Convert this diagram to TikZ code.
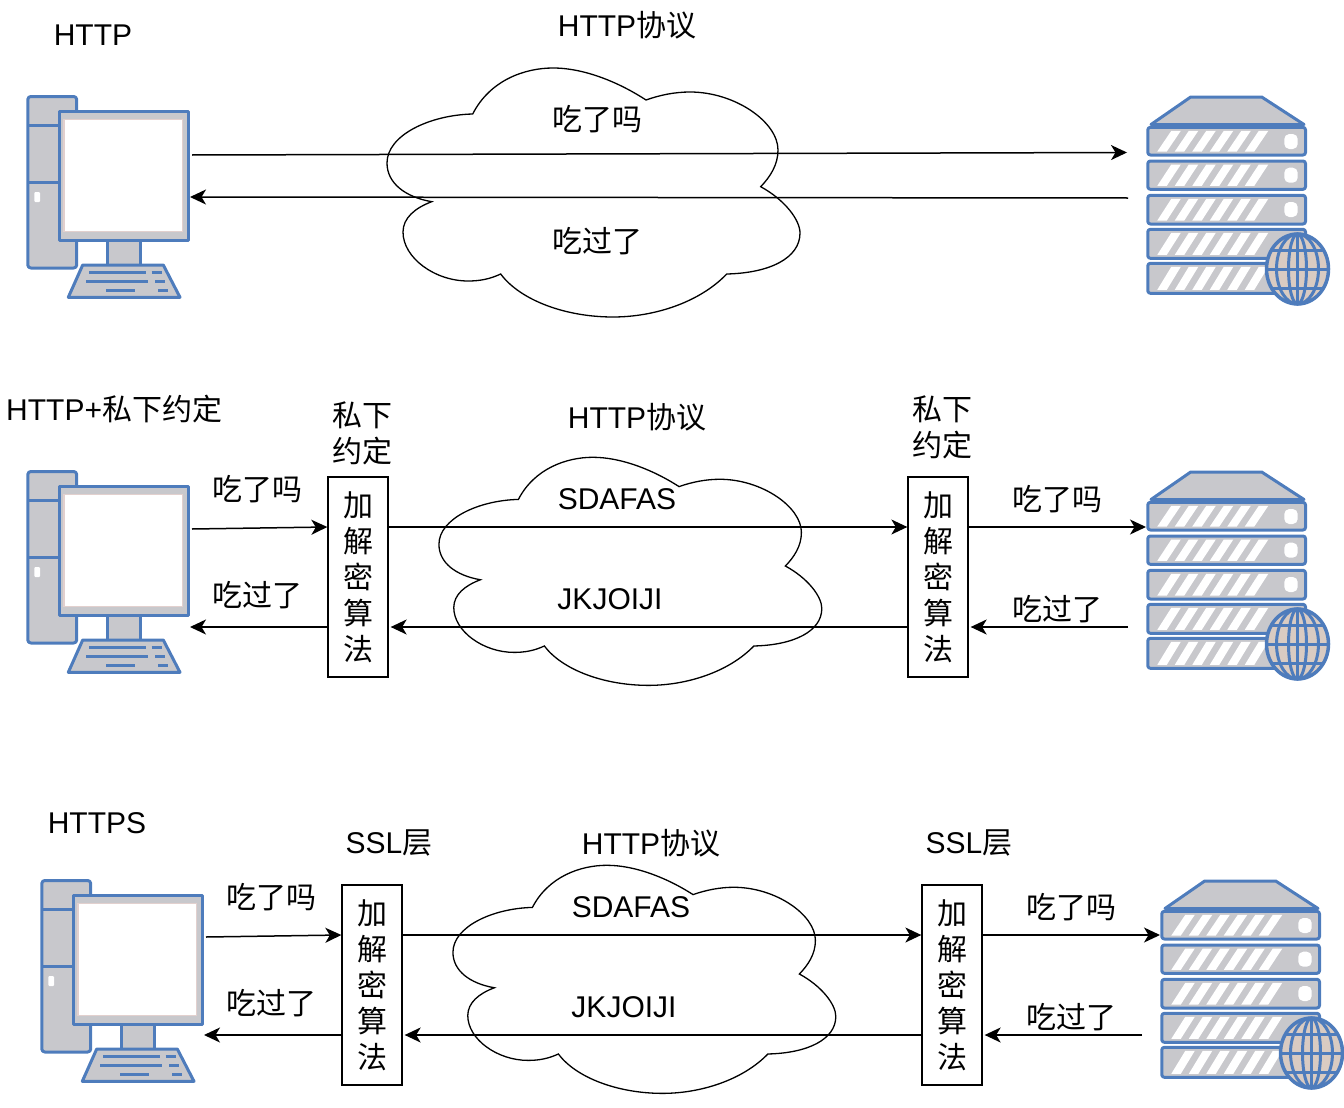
\documentclass[tikz,border=0pt]{standalone}
\usepackage{fontspec}
\setmainfont{Liberation Sans}
\newfontfamily\cjk{Noto Sans CJK SC}
\usetikzlibrary{arrows.meta}
\definecolor{iconblue}{RGB}{78, 124, 188}
\definecolor{icongray}{RGB}{200, 200, 204}
\definecolor{screenpink}{RGB}{226, 208, 206}
\definecolor{globetan}{RGB}{217, 203, 194}
\tikzset{
    lbl/.style={font=\fontsize{30}{36}\selectfont, inner sep=0pt},
    arr/.style={line width=1.5pt, -{Stealth[length=16pt,width=15pt,inset=4.5pt]}},
    cloudline/.style={line width=1.3pt},
    keybox/.style={draw, line width=1.3pt, minimum width=60pt, minimum height=200pt, inner sep=0pt,
        font=\fontsize{30}{36}\selectfont\cjk, align=center},
    icon/.style={draw=iconblue, fill=icongray, line width=3pt, line join=round},
    iconline/.style={draw=iconblue, line width=3pt},
    cloudshape/.pic={
        \draw[cloudline] (472.7,114) .. controls (490,80) and (525,68) .. (553,68)
            .. controls (585,68) and (620,83) .. (646,100)
            .. controls (660,95) and (675,92) .. (690,92)
            .. controls (735,92) and (778,122) .. (778,150)
            .. controls (778,165) and (770,177) .. (760.7,186.7)
            .. controls (785,200) and (800,220) .. (800,233)
            .. controls (800,258) and (770,273) .. (726.7,274)
            .. controls (700,302) and (655,317) .. (613,317)
            .. controls (565,317) and (520,300) .. (500.7,274)
            .. controls (490,279) and (480,281) .. (468,281)
            .. controls (435,281) and (403,258) .. (403,232)
            .. controls (403,218) and (415,208) .. (431.7,201.7)
            .. controls (405,197) and (387,183) .. (387,163)
            .. controls (387,135) and (430,115) .. (472.7,114) -- cycle;
    },
    computer/.pic={
        \draw[icon, rounded corners=3pt] (27.8,96.5) rectangle (76.7,268);
        \draw[iconline] (27.8,125) -- (60,125);
        \draw[iconline] (27.8,182.3) -- (60,182.3);
        \fill[white, rounded corners=1pt] (34.3,192) rectangle (40,202);
        \draw[icon] (107.3,240) rectangle (140.7,265);
        \draw[icon] (59.8,111) rectangle (188.5,240.5);
        \filldraw[draw=screenpink, fill=white, line width=1.5pt] (64,119.3) rectangle (182.7,231.7);
        \draw[icon] (82.7,265) -- (163.3,265) -- (180,297.3) -- (68.3,297.3) -- cycle;
        \draw[iconline] (89.3,272.3) -- (146,272.3);
        \draw[iconline] (151.7,272.3) -- (162.3,272.3);
        \draw[iconline] (86,281) -- (147.7,281);
        \draw[iconline] (155,281) -- (165,281);
        \draw[iconline] (106,290) -- (135,290);
        \draw[iconline] (158.3,290) -- (168.3,290);
    },
    server/.pic={
        \draw[icon] (1151,124.5) -- (1190.7,97) -- (1261.7,97) -- (1304,124.5) -- cycle;
        \foreach \ytop/\ybot in {127.3/155, 161/189.3, 195.3/224, 229.3/258.3, 263.3/293.3} {
            \draw[icon, rounded corners=2.5pt] (1147.8,\ytop) rectangle (1305.5,\ybot);
            \foreach \xs in {0,17.5,...,87.5}
                \fill[white] (1157.3+\xs,\ybot-3.5) -- (1166.8+\xs,\ybot-3.5)
                    -- (1180.8+\xs,\ytop+3.5) -- (1171.3+\xs,\ytop+3.5) -- cycle;
        }
        \foreach \ytop in {134,167.7,202}
            \fill[white, rounded corners=5pt] (1284.3,\ytop) rectangle (1297.7,\ytop+15);
        \filldraw[draw=iconblue, fill=globetan, line width=3.5pt] (1297.5,269) ellipse (31 and 35);
        \draw[iconline] (1297.5,269) ellipse (21 and 35);
        \draw[iconline] (1297.5,269) ellipse (9 and 35);
        \draw[iconline] (1297.5,234) -- (1297.5,304);
        \draw[iconline] (1266,269) -- (1329,269);
        \draw[iconline] (1272,250) -- (1323,250);
        \draw[iconline] (1272,288) -- (1323,288);
    },
}
\begin{document}
\begin{tikzpicture}[x=1pt, y=-1pt]
    \useasboundingbox (0,0) rectangle (1344,1108);

    % plain HTTP
    \node[lbl] (titleA) at (93,35) {HTTP};
    \node[lbl] (protoA) at (627,25) {HTTP{\cjk 协议}};
    \pic at (0,0) {cloudshape};
    \pic at (0,0) {computer};
    \pic at (0,0) {server};
    \node[lbl] (askA) at (597,119) {\cjk 吃了吗};
    \node[lbl] (ansA) at (597,241) {\cjk 吃过了};
    \coordinate (pcoutA) at (192,155);
    \coordinate (pcinA) at (190,197);
    \coordinate (srvinA) at (1127,152.5);
    \coordinate (srvoutA) at (1128,198);
    \draw[arr] (pcoutA) -- (srvinA);
    \draw[arr] (srvoutA) -- (pcinA);

    % HTTP with the private agreement
    \node[lbl, anchor=west] (titleB) at (6,409) {HTTP+{\cjk 私下约定}};
    \node[lbl, align=center, font=\fontsize{30}{36}\selectfont\cjk] (agreeBl) at (362,433) {私下\\约定};
    \node[lbl, align=center, font=\fontsize{30}{36}\selectfont\cjk] (agreeBr) at (942,427) {私下\\约定};
    \node[lbl] (protoB) at (637,417) {HTTP{\cjk 协议}};
    \pic[xscale=.927, yscale=.916] at (80.2,395) {cloudshape};
    \pic at (0,375) {computer};
    \pic at (0,375) {server};
    \node[keybox] (keyBl) at (358,577) {加\\解\\密\\算\\法};
    \node[keybox] (keyBr) at (938,577) {加\\解\\密\\算\\法};
    \node[lbl] (cipherBa) at (617,499) {SDAFAS};
    \node[lbl] (cipherBb) at (610,599) {JKJOIJI};
    \node[lbl] (askBl) at (257,489) {\cjk 吃了吗};
    \node[lbl] (ansBl) at (257,595) {\cjk 吃过了};
    \node[lbl] (askBr) at (1057,499) {\cjk 吃了吗};
    \node[lbl] (ansBr) at (1057,609) {\cjk 吃过了};
    \coordinate (pcoutB) at (192,529);
    \coordinate (pcinB) at (190,627);
    \coordinate (srvinB) at (1146,527);
    \coordinate (srvoutB) at (1128,627);
    \draw[arr] (pcoutB) -- ([yshift=50pt]keyBl.west);
    \draw[arr] ([yshift=-50pt]keyBl.west) -- (pcinB);
    \draw[arr] ([yshift=50pt]keyBl.east) -- ([yshift=50pt]keyBr.west);
    \draw[arr] ([yshift=-50pt]keyBr.west) -- ([yshift=-50pt,xshift=2pt]keyBl.east);
    \draw[arr] ([yshift=50pt]keyBr.east) -- (srvinB);
    \draw[arr] (srvoutB) -- ([yshift=-50pt,xshift=2pt]keyBr.east);

    % HTTPS
    \node[lbl] (titleC) at (97,823) {HTTPS};
    \node[lbl] (sslCl) at (389,843) {SSL{\cjk 层}};
    \node[lbl] (sslCr) at (969,843) {SSL{\cjk 层}};
    \node[lbl] (protoC) at (651,843) {HTTP{\cjk 协议}};
    \pic[xscale=.927, yscale=.916] at (94.2,803) {cloudshape};
    \pic at (14,784) {computer};
    \pic at (14,784) {server};
    \node[keybox] (keyCl) at (372,985) {加\\解\\密\\算\\法};
    \node[keybox] (keyCr) at (952,985) {加\\解\\密\\算\\法};
    \node[lbl] (cipherCa) at (631,907) {SDAFAS};
    \node[lbl] (cipherCb) at (624,1007) {JKJOIJI};
    \node[lbl] (askCl) at (271,897) {\cjk 吃了吗};
    \node[lbl] (ansCl) at (271,1003) {\cjk 吃过了};
    \node[lbl] (askCr) at (1071,907) {\cjk 吃了吗};
    \node[lbl] (ansCr) at (1071,1017) {\cjk 吃过了};
    \coordinate (pcoutC) at (206,937);
    \coordinate (pcinC) at (204,1035);
    \coordinate (srvinC) at (1160,935);
    \coordinate (srvoutC) at (1142,1035);
    \draw[arr] (pcoutC) -- ([yshift=50pt]keyCl.west);
    \draw[arr] ([yshift=-50pt]keyCl.west) -- (pcinC);
    \draw[arr] ([yshift=50pt]keyCl.east) -- ([yshift=50pt]keyCr.west);
    \draw[arr] ([yshift=-50pt]keyCr.west) -- ([yshift=-50pt,xshift=2pt]keyCl.east);
    \draw[arr] ([yshift=50pt]keyCr.east) -- (srvinC);
    \draw[arr] (srvoutC) -- ([yshift=-50pt,xshift=2pt]keyCr.east);
\end{tikzpicture}
\end{document}
